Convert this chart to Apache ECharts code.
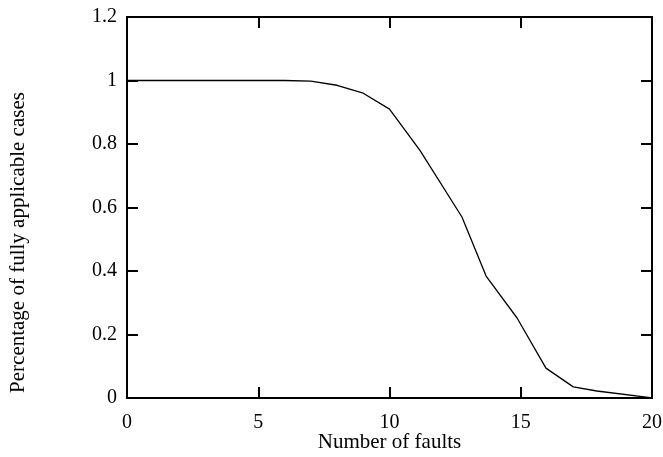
<!DOCTYPE html>
<html>
<head>
<meta charset="utf-8">
<script src="https://cdn.jsdelivr.net/npm/echarts@6/dist/echarts.min.js"></script>
<style>html,body{margin:0;padding:0;background:#fff;}#c{width:663px;height:457px;}</style>
</head>
<body>
<div id="c"></div>
<script>
var faults = [0, 1, 2, 3, 4, 5, 6, 7, 8, 9, 10, 11.16, 12.76, 13.68, 14.86, 15.96, 17.0, 17.9, 19.85, 20];
var fraction = [1.0, 1.0, 1.0, 1.0, 1.0, 1.0, 1.0, 0.998, 0.985, 0.96, 0.91, 0.78, 0.57, 0.384, 0.252, 0.094, 0.035, 0.022, 0.002, 0.0];
var xTicks = [0, 5, 10, 15, 20];
var yTicks = [0, 0.2, 0.4, 0.6, 0.8, 1, 1.2];

var pts = faults.map(function (f, i) { return [f, fraction[i]]; });
var font = 'Liberation Serif';
var frame = { show: true, onZero: false, lineStyle: { color: '#000', width: 2 } };
var ticksIn = { show: true, inside: true, length: 11, lineStyle: { color: '#000', width: 2 } };

var chart = echarts.init(document.getElementById('c'));
chart.setOption({
  animation: false,
  backgroundColor: '#fff',
  grid: { left: 127, right: 11, top: 17, bottom: 59, containLabel: false, outerBoundsMode: 'none' },
  xAxis: [{
    type: 'value', min: 0, max: 20, interval: 5, position: 'bottom',
    name: 'Number of faults', nameLocation: 'middle', nameGap: 34, nameMoveOverlap: false,
    nameTextStyle: { fontFamily: font, fontSize: 21, color: '#000' },
    axisLine: frame, axisTick: ticksIn, splitLine: { show: false },
    axisLabel: { fontFamily: font, fontSize: 20, color: '#000', margin: 15,
      formatter: function (v) { return xTicks.indexOf(v) >= 0 ? String(v) : ''; } }
  }, {
    type: 'value', min: 0, max: 20, interval: 5, position: 'top',
    axisLine: frame, axisTick: ticksIn, splitLine: { show: false }, axisLabel: { show: false }
  }],
  yAxis: [{
    type: 'value', min: 0, max: 1.2, interval: 0.2, position: 'left',
    name: 'Percentage of fully applicable cases', nameLocation: 'middle', nameGap: 98,
    nameTextStyle: { fontFamily: font, fontSize: 21, color: '#000', padding: [0, 70, 0, 0] },
    axisLine: frame, axisTick: ticksIn, splitLine: { show: false },
    axisLabel: { fontFamily: font, fontSize: 20, color: '#000', margin: 10,
      formatter: function (v) { var r = Math.round(v * 10) / 10; return yTicks.indexOf(r) >= 0 ? String(r) : ''; } }
  }, {
    type: 'value', min: 0, max: 1.2, interval: 0.2, position: 'right',
    axisLine: frame, axisTick: ticksIn, splitLine: { show: false }, axisLabel: { show: false }
  }],
  series: [{
    type: 'line', data: pts, showSymbol: false, smooth: false,
    lineStyle: { color: '#000', width: 1.3 }
  }]
});
</script>
</body>
</html>
